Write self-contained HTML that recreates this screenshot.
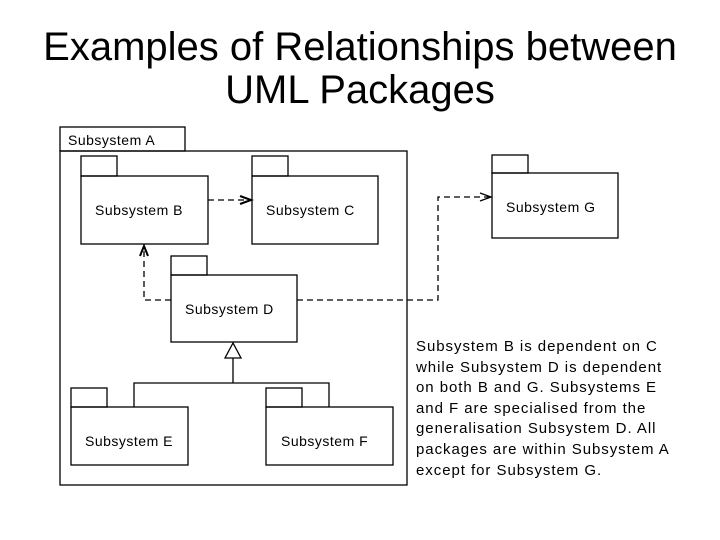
<!DOCTYPE html>
<html><head><style>
body{margin:0;background:#fff;width:720px;height:540px;overflow:hidden;font-family:"Liberation Sans",Arial,sans-serif}
.t{position:absolute;left:0;width:720px;text-align:center;font-size:40px;color:#000;line-height:42px}
.p{position:absolute;left:416px;top:337px;font-size:15px;line-height:20.6px;color:#000;letter-spacing:0.95px;white-space:nowrap}
</style></head><body>
<div class="t" style="top:26px">Examples of Relationships between</div>
<div class="t" style="top:69px">UML Packages</div>
<svg width="720" height="540" style="position:absolute;left:0;top:0" font-family="Liberation Sans, Arial, sans-serif" font-size="14" letter-spacing="0.5">
<g fill="none" stroke="#000" stroke-width="1.3">
<rect x="60" y="127" width="125" height="24"/>
<rect x="60" y="151" width="347" height="334"/>
<rect x="81" y="156" width="36" height="20"/><rect x="81" y="176" width="127" height="68"/>
<rect x="252" y="156" width="36" height="20"/><rect x="252" y="176" width="126" height="68"/>
<rect x="171" y="256" width="36" height="19"/><rect x="171" y="275" width="126" height="67"/>
<rect x="492" y="155" width="36" height="18"/><rect x="492" y="173" width="126" height="65"/>
<rect x="71" y="388" width="36" height="19"/><rect x="71" y="407" width="117" height="58"/>
<rect x="266" y="388" width="36" height="19"/><rect x="266" y="407" width="127" height="58"/>
<g stroke-dasharray="6,4">
<path d="M208 200H250"/>
<path d="M171 300H144V246"/>
<path d="M297 300H438V197H490"/>
</g>
<path d="M240 196L251 200L240 204" stroke-width="2"/>
<path d="M140 256L144 246L148 256" stroke-width="2"/>
<path d="M480 193L491 197L480 201"/>
<path d="M233 358V383M134 407V383H329V407"/>
<path d="M233 343L225 358H241Z" fill="#fff"/>
</g>
<g fill="#000">
<text x="68" y="145">Subsystem A</text>
<text x="95" y="215">Subsystem B</text>
<text x="266" y="215">Subsystem C</text>
<text x="185" y="314">Subsystem D</text>
<text x="506" y="212">Subsystem G</text>
<text x="85" y="446">Subsystem E</text>
<text x="281" y="446">Subsystem F</text>
</g>
</svg>
<div class="p">Subsystem B is dependent on C<br>while Subsystem D is dependent<br>on both B and G. Subsystems E<br>and F are specialised from the<br>generalisation Subsystem D. All<br>packages are within Subsystem A<br>except for Subsystem G.</div>
</body></html>
